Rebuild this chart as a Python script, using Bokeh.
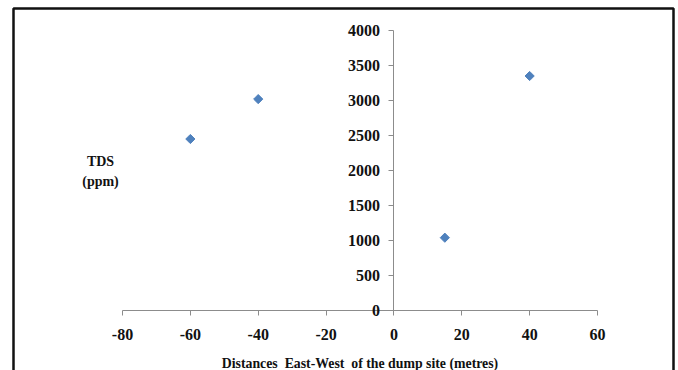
import math
from bokeh.plotting import figure
from bokeh.models import Range1d, FixedTicker, BoxAnnotation, Label
from bokeh.embed import file_html
from bokeh.resources import INLINE

# data
distance = [-60, -40, 15, 40]
tds = [2450, 3020, 1040, 3350]
x_ticks = [-80, -60, -40, -20, 0, 20, 40, 60]
y_ticks = [0, 500, 1000, 1500, 2000, 2500, 3000, 3500, 4000]
x_label = "Distances\u00a0 East-West\u00a0 of the dump site (metres)"
y_label = "TDS\n(ppm)"

FONT = "Liberation Serif"
AXIS_COLOR = "#8c8c8c"
W, H = 678, 370

# pixel layout of the plotting area (style only)
XMIN, XMAX, YMIN, YMAX = -80, 60, 0, 4000
PX_L, PX_R, PX_T, PX_B = 122, 597, 30, 310
kx = (PX_R - PX_L) / (XMAX - XMIN)
ky = (PX_B - PX_T) / (YMAX - YMIN)

def px2x(px):
    return XMIN + (px - PX_L) / kx

def px2y(py):
    return YMIN + (PX_B - py) / ky

p = figure(width=W, height=H, output_backend="svg", toolbar_location=None,
           x_range=Range1d(px2x(0), px2x(W)), y_range=Range1d(px2y(H), px2y(0)),
           min_border=0)
p.outline_line_color = None
p.grid.visible = False

for ax in (p.xaxis[0], p.yaxis[0]):
    ax.fixed_location = 0
    ax.axis_line_color = AXIS_COLOR
    ax.major_tick_line_color = AXIS_COLOR
    ax.minor_tick_line_color = None
    ax.major_tick_out = 5
    ax.major_tick_in = 0
    ax.major_label_text_font = FONT
    ax.major_label_text_font_style = "bold"
    ax.major_label_text_font_size = "16px"
    ax.major_label_text_color = "#111111"

p.xaxis.bounds = (XMIN, XMAX)
p.yaxis.bounds = (YMIN, YMAX)
p.xaxis.ticker = FixedTicker(ticks=x_ticks)
p.yaxis.ticker = FixedTicker(ticks=y_ticks)
p.xaxis.major_label_overrides = {t: str(t) for t in x_ticks}
p.xaxis.major_label_standoff = 13
p.yaxis.major_label_standoff = 9

p.xaxis.axis_label = x_label
p.xaxis.axis_label_text_font = FONT
p.xaxis.axis_label_text_font_style = "bold"
p.xaxis.axis_label_text_font_size = "13.8px"
p.xaxis.axis_label_standoff = 13
p.xaxis.axis_label_text_color = "#111111"

p.scatter(distance, tds, marker="square", angle=math.pi / 4, size=6.5, color="#4F81BD")

lab = Label(x=px2x(100), y=px2y(171), text=y_label, text_align="center", text_baseline="middle",
            text_font=FONT, text_font_style="bold", text_font_size="14px", text_color="#111111",
            text_line_height=1.35)
p.add_layout(lab)

border = BoxAnnotation(left=px2x(13), right=px2x(673), top=px2y(8), bottom=px2y(H + 20),
                       fill_alpha=0, line_color="#111111", line_width=2.5, line_alpha=1)
p.add_layout(border)

open("out.html", "w").write(file_html(p, INLINE))
